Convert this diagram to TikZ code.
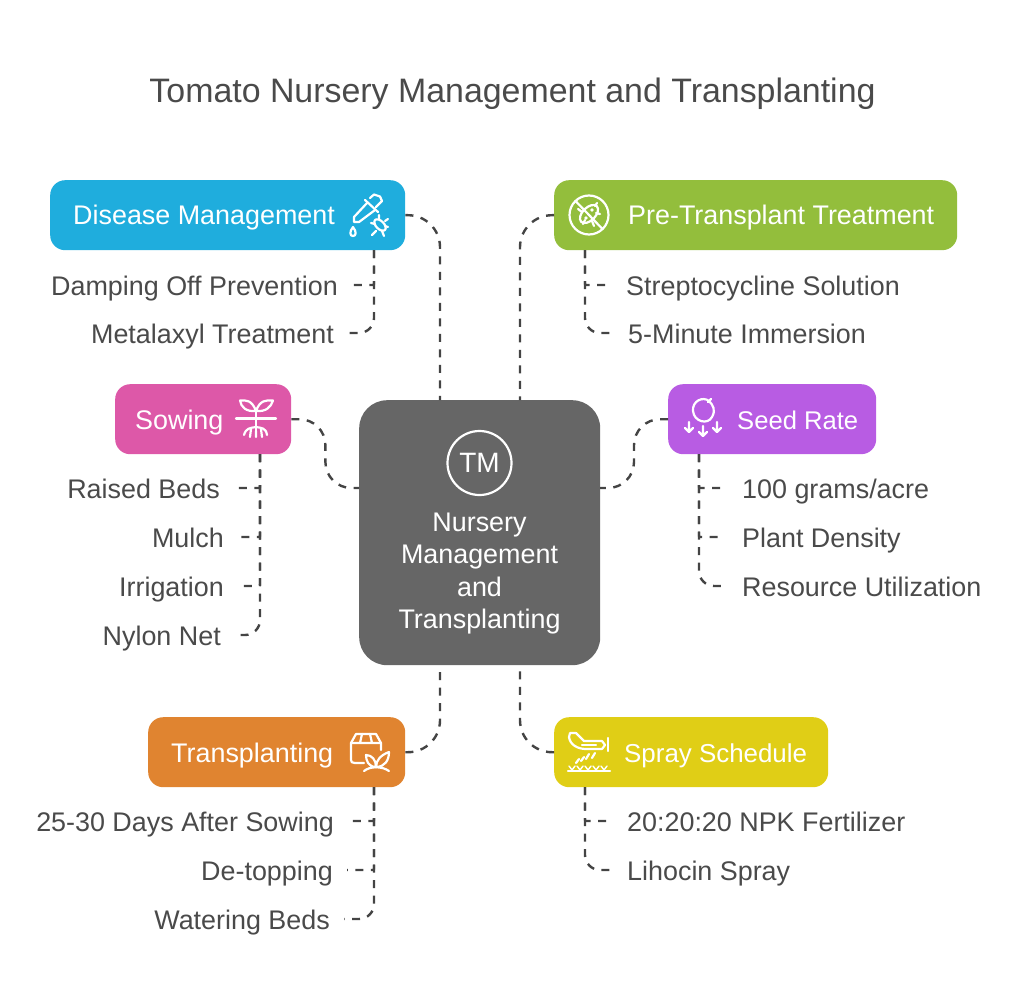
\documentclass[tikz,border=0pt]{standalone}
\usepackage{fontspec}
\setmainfont{Liberation Sans}
\usetikzlibrary{calc}

\definecolor{inkgray}{HTML}{4A4A4A}
\definecolor{linegray}{HTML}{444444}
\definecolor{hubgray}{HTML}{666666}
\definecolor{diseaseblue}{HTML}{1FADDD}
\definecolor{pregreen}{HTML}{93BE3C}
\definecolor{sowingpink}{HTML}{DD58A8}
\definecolor{seedpurple}{HTML}{B85CE3}
\definecolor{transorange}{HTML}{E08430}
\definecolor{sprayyellow}{HTML}{E0CE16}

\tikzset{
  box/.style={rounded corners=15pt, inner sep=0pt, minimum height=70pt, anchor=north west},
  boxtext/.style={text=white, font=\fontsize{26.9}{30}\selectfont, inner sep=0pt, text height=20pt, text depth=0pt},
  leaf/.style={text=inkgray, font=\fontsize{26.9}{30}\selectfont, inner ysep=0pt, text height=20pt, text depth=0pt},
  leafl/.style={leaf, anchor=east, inner xsep=14pt},
  leafr/.style={leaf, anchor=west, inner xsep=17pt},
  link/.style={draw=linegray, line width=2.4pt, dash pattern=on 8pt off 7.5pt},
  iconline/.style={draw=white, line width=2.2pt, line cap=round, line join=round},
}

\begin{document}
\begin{tikzpicture}[x=1pt, y=-1pt]
\useasboundingbox (0,0) rectangle (1024,1000);

\node[text=inkgray, font=\fontsize{33.9}{40}\selectfont] (title) at (512.5,93.5) {Tomato Nursery Management and Transplanting};

\node[box, fill=hubgray, rounded corners=28pt, minimum width=241pt, minimum height=265pt] (hub) at (359,400) {};
\foreach \y/\txt [count=\i] in {521/Nursery, 553/Management, 586/and, 618/Transplanting} \node[boxtext] (hubline\i) at (479.5,\y) {\txt};
\node[iconline, circle, minimum size=64pt, inner sep=0pt, text=white, font=\fontsize{28}{30}\selectfont] (hubicon) at (479.5,463) {TM};

\node[box, fill=diseaseblue, minimum width=355pt] (disease) at (50,180) {};
\node[box, fill=pregreen, minimum width=403pt] (pre) at (554,180) {};
\node[box, fill=sowingpink, minimum width=176pt] (sowing) at (115,384) {};
\node[box, fill=seedpurple, minimum width=208pt] (seed) at (668,384) {};
\node[box, fill=transorange, minimum width=257pt] (trans) at (148,717) {};
\node[box, fill=sprayyellow, minimum width=274pt] (spray) at (554,717) {};

\node[boxtext, anchor=west] (diseaselabel) at (73,215) {Disease Management};
\node[boxtext, anchor=west] (prelabel) at (628,215) {Pre-Transplant Treatment};
\node[boxtext, anchor=west] (sowinglabel) at (135,419) {Sowing};
\node[boxtext, anchor=west, font=\fontsize{25.6}{30}\selectfont] (seedlabel) at (737,419) {Seed Rate};
\node[boxtext, anchor=west] (translabel) at (171,752) {Transplanting};
\node[boxtext, anchor=west, font=\fontsize{25.9}{30}\selectfont] (spraylabel) at (624,752) {Spray Schedule};

% hub connectors
\coordinate (hubnl) at (440,400);
\coordinate (hubnr) at (520,400);
\coordinate (hubsl) at (440,665);
\coordinate (hubsr) at (520,665);
\coordinate (hubw) at (359,488);
\coordinate (hube) at (600,488);
\draw[link, rounded corners=32pt] (disease.east) -| (hubnl);
\draw[link, rounded corners=32pt] (pre.west) -| (hubnr);
\draw[link, rounded corners=32pt] (trans.east) -| (hubsl);
\draw[link, rounded corners=32pt] (spray.west) -| (hubsr);
\draw[link, rounded corners=26pt] (sowing.east) -- ++(34,0) |- (hubw);
\draw[link, rounded corners=26pt] (seed.west) -- ++(-34,0) |- (hube);

% branches
\foreach \x/\y/\r/\nm/\txt in {352/285/1/damping/Damping Off Prevention, 348/333/15/metalaxyl/Metalaxyl Treatment} {
  \node[leafl] (\nm) at (\x,\y) {\txt};
  \draw[link, rounded corners=\r pt] (374,250) |- (\nm.east);
}
\foreach \x/\y/\r/\nm/\txt in {609/285/1/strepto/Streptocycline Solution, 611/333/15/immersion/5-Minute Immersion} {
  \node[leafr] (\nm) at (\x,\y) {\txt};
  \draw[link, rounded corners=\r pt] (585,250) |- (\nm.west);
}
\foreach \x/\y/\r/\nm/\txt in {234/488/1/beds/Raised Beds, 238/537/1/mulch/Mulch, 238/586/1/irrigation/Irrigation, 235/635/15/nylon/Nylon Net} {
  \node[leafl] (\nm) at (\x,\y) {\txt};
  \draw[link, rounded corners=\r pt] (260,454) |- (\nm.east);
}
\foreach \x/\y/\r/\nm/\txt in {725/488/1/grams/{100 grams/acre}, 725/537/1/density/Plant Density, 725/586/15/resource/Resource Utilization} {
  \node[leafr] (\nm) at (\x,\y) {\txt};
  \draw[link, rounded corners=\r pt] (699,454) |- (\nm.west);
}
\foreach \x/\y/\r/\nm/\txt in {348/821/1/days/25-30 Days After Sowing, 347/870/1/topping/De-topping, 344/919/15/watering/Watering Beds} {
  \node[leafl] (\nm) at (\x,\y) {\txt};
  \draw[link, rounded corners=\r pt] (374,787) |- (\nm.east);
}
\foreach \x/\y/\r/\nm/\txt in {610/821/1/npk/20:20:20 NPK Fertilizer, 610/870/15/lihocin/Lihocin Spray} {
  \node[leafr] (\nm) at (\x,\y) {\txt};
  \draw[link, rounded corners=\r pt] (585,787) |- (\nm.west);
}

% disease icon
\draw[iconline] (370,198) -- (374,194.500) -- (380,196.500) -- (382,201) -- (376,207);
\draw[iconline] (365,200) -- (378,212);
\draw[iconline] (367,203) -- (354,217) -- (354,222) -- (359,222) -- (375,210);
\draw[iconline] (353,227) .. controls (349,232) and (350,236) .. (353,236) .. controls (356,236) and (357,232) .. (353,227);
\draw[iconline, rotate around={-45:(380,225)}] (380,225) ellipse (7 and 4);
\draw[iconline] (371,223) -- (375,224) (388,227) -- (385,226) (379,215) -- (379,219) (372,235) -- (376,231) (388,219) -- (385,221) (384,236) -- (382,231);

% pre-transplant icon
\draw[iconline] (589,215) circle (19.500);
\draw[iconline] (575.500,201) -- (602.500,229);
\draw[iconline, rotate around={45:(589,214)}] (589,214) ellipse (11 and 6.500);
\fill[white] (586,218) circle (1.800) (592,210) circle (1.800);
\draw[iconline] (578,209) -- (582,212) (594,226) -- (592,221) (597,203) -- (595,206) (600,214) -- (596,213) (583,224) -- (585,220);

% sowing icon
\draw[iconline] (236,418.500) -- (276,418.500);
\draw[iconline] (256,410) -- (256,431);
\draw[iconline] (256,411) .. controls (252,400) and (246,400) .. (240,400.500) .. controls (241,407) and (246,412) .. (256,411);
\draw[iconline] (256,411) .. controls (260,400) and (266,400) .. (273,400.500) .. controls (271,407) and (266,412) .. (256,411);
\draw[iconline] (256,427) .. controls (250,428) and (246,428) .. (244,435) (256,427) .. controls (262,428) and (266,428) .. (267,435) (251,429) -- (250,437) (261,429) -- (262,437) (256,431) -- (256,437);

% seed icon
\draw[iconline] (709,401) .. controls (703,396) and (692,401) .. (693,411) .. controls (694,422) and (708,425) .. (712,417) .. controls (716,410) and (713,405) .. (709,401);
\draw[iconline] (708,402) -- (711,399);
\foreach \ax/\ay in {689/422, 703/426, 717/422} \draw[iconline] (\ax,\ay) -- ++(0,9) (\ax-4,\ay+6) -- (\ax,\ay+10) -- (\ax+4,\ay+6);

% transplant icon
\draw[iconline] (364,763) -- (355,763) .. controls (352,763) and (351,762) .. (351,760) -- (351,743) -- (356,734) -- (376,734) -- (381,743) -- (381,750);
\draw[iconline] (351,743) -- (381,743) (362,734) -- (360,743) (370,734) -- (372,743);
\draw[iconline] (376,767) .. controls (368,767) and (366,760) .. (366,755) .. controls (372,755) and (376,760) .. (376,767) .. controls (376,760) and (381,755) .. (389,752) .. controls (389,760) and (385,767) .. (376,767);
\draw[iconline] (364,771) .. controls (370,766) and (382,766) .. (389,771);

% spray icon
\draw[iconline] (570,733) -- (576,733) -- (584,741) -- (602,741) -- (605,745) -- (602,749) -- (586,749) .. controls (578,749) and (570,745) .. (569,737) -- (570,733);
\draw[iconline] (582,745) -- (596,745);
\draw[iconline] (608,738) -- (608,751);
\draw[iconline] (579,759) -- (576,763) (589,754) -- (586,759) (584,757) -- (581,761) (595,753) -- (592,758);
\draw[iconline] (568,771) -- (610,771);
\foreach \gx in {572,580,588,596,604} \draw[iconline, line width=1.400pt] (\gx-3,766) -- (\gx,770) -- (\gx+3,766);

\end{tikzpicture}
\end{document}
